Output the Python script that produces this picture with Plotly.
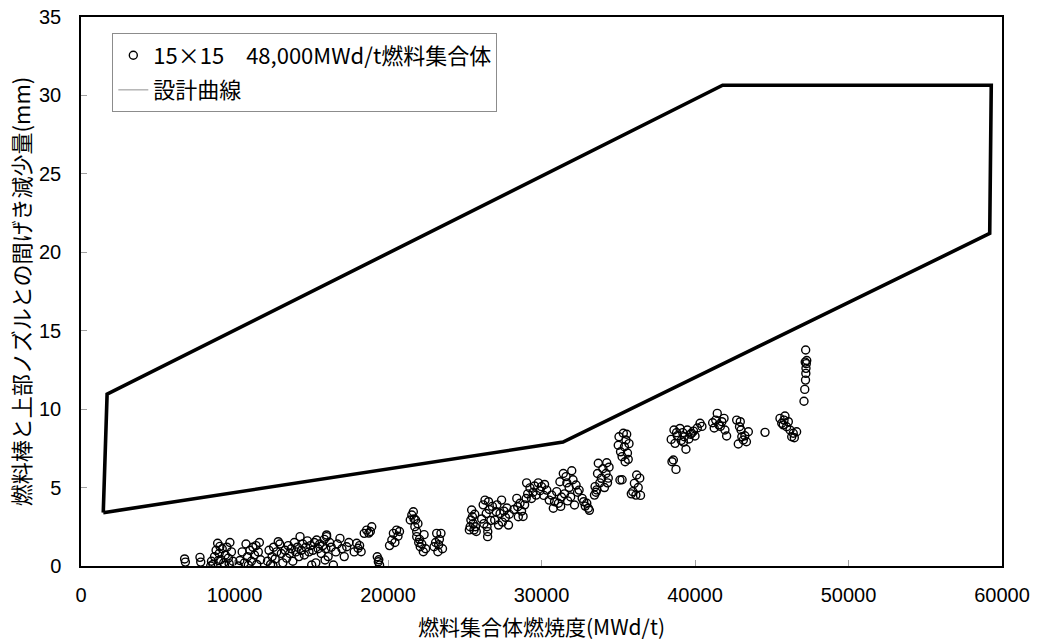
import plotly.graph_objects as go

# Measured data: fuel assembly burnup (MWd/t) vs. reduction of gap between rod and top nozzle (mm)
burnup = [
    6750, 6800,
    7750, 7800,
    8500, 8600, 8700, 8800, 8900, 9000, 9100, 9200, 9300, 9400, 9500, 9600, 9700, 9800, 9900, 8450, 9050, 9350, 9650, 8950,
    10250, 10350, 10500, 10650, 10750, 10850, 11000, 11100, 11200, 11300, 11450, 11550, 11620, 11700, 10900, 11400,
    12150, 12250, 12350, 12450, 12550, 12650, 12750, 12850, 12950, 13050, 13150, 12500,
    13300, 13400, 13500, 13600, 13700, 13800, 13900, 14000, 14100, 14200, 14270, 14350, 14450, 14550, 14650, 14750,
    14850, 14950, 15030, 15100, 15200, 15300, 15350, 15450, 15550, 15650, 15750, 15850, 15950, 16000, 16100, 16200,
    15900, 16000, 16300, 16440, 16600, 16700, 16870, 17000, 17150, 17310, 17450,
    17800, 17960, 18050, 18150, 18250,
    18450, 18610, 18750, 18850, 18940,
    19300, 19370, 19450, 19400,
    20100, 20250, 20350, 20450, 20560, 20650, 20750,
    21450, 21550, 21650, 21750, 21800, 21870, 21700, 21950,
    21870, 22000, 22100, 22200, 22300, 22450, 22050, 22350,
    23000, 23100, 23170, 23250, 23350, 23450, 23550, 23300,
    25300, 25350, 25400, 25450, 25500, 25550, 25600, 25650, 25700, 25750,
    26100, 26200, 26320, 26400, 26450, 26500, 26490, 26600, 26700, 26800, 26250, 26550,
    26950, 27050, 27100, 27200, 27300, 27400, 27450, 27550, 27650, 27750, 27850, 27900,
    28200, 28390, 28450, 28490, 28600, 28700, 28800, 28900, 29000,
    29030, 29100, 29250, 29350, 29450, 29550, 29650, 29790, 29900, 30000, 30150, 30340, 30200,
    30500, 30660, 30770, 30850, 30990, 31100, 31200, 31300, 31420, 31500, 31600, 31700, 31800, 31900, 31970, 32050,
    32150, 32250, 32350, 32450, 31250, 31650,
    32650, 32750, 32850, 32950, 33050, 33120,
    33450, 33490, 33550, 33600, 33650, 33700, 33800, 33900, 34000, 34100, 34250, 34300, 34200, 34400, 34350,
    35000, 35050, 35150, 35250, 35330, 35400, 35450, 35500, 35600, 35650, 35700, 35550, 35110, 35250,
    35850, 35950, 36050, 36150, 36200, 36300, 36400, 36450,
    38450, 38500, 38590, 38630, 38700, 38760, 38850, 39020, 39100, 39200, 39300, 39410, 39500, 39600, 39700, 39780,
    39900, 40000, 40150, 40330, 40450, 39250, 38800,
    41150, 41250, 41350, 41450, 41550, 41650, 41750, 41890, 41950, 42060,
    42715, 42820, 42900, 43000, 43050, 43150, 43250, 43350, 43475, 42950,
    44560,
    45537, 45650, 45750, 45860, 45970, 46080, 46190, 46300, 46400, 46470, 46620, 45800,
    47100, 47150, 47200, 47220, 47230, 47250, 47180, 47280, 47210,
]
gap_reduction = [
    0.45, 0.25,
    0.55, 0.25,
    0.3, 0.1, 0.6, 1.0, 1.45, 0.8, 0.4, 1.1, 0.2, 0.7, 1.2, 0.5, 1.5, 0.9, 0.3, 0.0, 1.25, 0.05, 0.15, 0.35,
    0.0, 0.35, 0.9, 0.2, 1.4, 0.6, 1.0, 0.3, 1.2, 0.7, 0.1, 0.9, 1.5, 0.4, 0.05, 1.3,
    0.3, 1.0, 0.1, 0.6, 1.2, 0.45, 0.9, 1.55, 1.4, 0.8, 0.2, 0.05,
    1.0, 0.5, 1.3, 0.8, 1.1, 0.3, 1.5, 0.9, 1.2, 0.6, 1.87, 1.0, 1.4, 0.7, 1.2, 1.6,
    0.9, 1.3, 0.06, 1.0, 1.5, 0.2, 1.66, 1.1, 1.4, 0.8, 1.3, 1.7, 1.1, 1.98, 0.6, 1.5,
    0.38, 1.87, 1.2, 0.06, 0.9, 1.4, 1.76, 1.1, 0.6, 1.23, 1.5,
    0.9, 1.45, 1.13, 1.3, 0.91,
    2.08, 2.29, 2.1, 2.2, 2.5,
    0.59, 0.27, 0.06, 0.4,
    1.3, 1.66, 2.08, 1.5, 2.29, 1.9, 2.2,
    2.93, 3.25, 3.46, 2.5, 2.93, 2.19, 3.0, 2.7,
    1.87, 1.5, 1.23, 1.4, 0.91, 1.1, 1.7, 2.0,
    1.23, 1.5, 2.08, 0.91, 1.7, 2.08, 1.1, 1.35,
    2.3, 2.5, 2.93, 3.57, 3.14, 2.7, 2.3, 3.3, 2.5, 2.2,
    3.0, 3.9, 4.2, 3.35, 2.5, 2.19, 1.87, 3.6, 2.9, 3.8, 2.7, 4.1,
    2.93, 3.46, 3.9, 2.61, 3.35, 4.2, 2.8, 3.5, 3.1, 3.7, 2.61, 3.3,
    3.6, 4.31, 3.78, 3.14, 4.0, 3.5, 3.16, 3.9, 4.3,
    5.3, 4.6, 4.98, 4.3, 4.7, 5.1, 4.52, 5.3, 4.8, 5.06, 4.5, 4.84, 5.2,
    4.2, 4.52, 3.68, 4.1, 4.74, 4.0, 5.37, 4.4, 5.9, 4.6, 5.7, 4.15, 5.0, 4.4, 6.07, 5.5,
    3.89, 5.16, 4.7, 4.84, 3.8, 5.3,
    4.31, 4.1, 3.82, 4.0, 3.68, 3.55,
    4.52, 5.06, 4.7, 4.85, 5.9, 6.55, 5.3, 5.59, 6.2, 5.0, 6.58, 5.3, 5.9, 6.3, 5.6,
    7.7, 8.24, 7.28, 6.97, 8.46, 7.6, 6.65, 8.03, 7.2, 6.8, 7.8, 8.4, 5.48, 5.5,
    4.6, 4.74, 5.27, 4.52, 5.8, 5.0, 5.6, 4.5,
    8.07, 6.65, 6.76, 8.67, 7.82, 6.16, 8.3, 8.77, 8.0, 8.5, 8.24, 7.44, 8.67, 8.1, 8.4, 8.46,
    8.6, 8.29, 8.8, 9.1, 8.9, 7.9, 8.5,
    9.13, 8.8, 9.3, 9.73, 9.0, 8.9, 9.2, 9.41, 8.67, 8.29,
    9.3, 7.78, 8.88, 8.67, 8.24, 8.03, 8.3, 7.92, 8.56, 9.2,
    8.52,
    9.41, 9.1, 9.0, 9.56, 8.88, 9.2, 8.67, 8.24, 8.46, 8.18, 8.56, 9.3,
    10.5, 11.26, 11.85, 12.28, 12.6, 12.9, 13.0, 13.1, 13.77,
]

# Design curve envelope (closed polygon)
design_x = [1450, 1700, 41800, 59300, 59200, 31400, 1450]
design_y = [3.4, 10.95, 30.65, 30.65, 21.2, 7.9, 3.4]

x_ticks = [0, 10000, 20000, 30000, 40000, 50000, 60000]
y_ticks = [0, 5, 10, 15, 20, 25, 30, 35]

JP = "Noto Sans CJK JP"

fig = go.Figure()
fig.add_trace(go.Scatter(
    x=burnup, y=gap_reduction, mode="markers",
    name="15×15\u300048,000MWd/t燃料集合体", legendgroup="a",
    marker=dict(symbol="circle-open", size=8, color="black", line=dict(width=1.4, color="black")),
))
fig.add_trace(go.Scatter(
    x=design_x, y=design_y, mode="lines", showlegend=False,
    line=dict(color="black", width=3.6),
))
fig.add_trace(go.Scatter(
    x=[None], y=[None], mode="lines", name="設計曲線", legendgroup="b",
    line=dict(color="#909090", width=1),
))

fig.update_layout(
    width=1040, height=644,
    margin=dict(l=81, r=38, t=17, b=78, autoexpand=False),
    paper_bgcolor="white", plot_bgcolor="white",
    font=dict(family=JP, color="black", size=18),
    showlegend=True,
    legend=dict(
        x=0.034, y=0.97, xanchor="left", yanchor="top",
        bgcolor="white", bordercolor="#8c8c8c", borderwidth=1,
        font=dict(family=JP, size=22, color="black"),
        itemwidth=30, tracegroupgap=3,
    ),
    annotations=[dict(
        text="燃料集合体燃焼度(MWd/t)", xref="paper", yref="paper",
        x=0.5, y=-0.109, xanchor="center", yanchor="middle", showarrow=False,
        font=dict(family=JP, size=21, color="black"),
    )],
)
fig.update_xaxes(
    range=[0, 60000], tickvals=x_ticks, ticktext=[str(v) for v in x_ticks],
    showgrid=False, zeroline=False, automargin=False,
    showline=True, linecolor="black", linewidth=1.5, mirror=True,
    ticks="inside", ticklen=6, tickcolor="#a0a0a0", tickwidth=1,
    ticklabelstandoff=10, ticklabeloverflow="allow",
    tickfont=dict(family="Liberation Sans, Arial", size=20, color="black"),
)
fig.update_yaxes(
    range=[0, 35], tickvals=y_ticks, ticktext=[str(v) for v in y_ticks],
    showgrid=False, zeroline=False, automargin=False,
    showline=True, linecolor="black", linewidth=1.5, mirror=True,
    ticks="inside", ticklen=6, tickcolor="#a0a0a0", tickwidth=1,
    ticklabelstandoff=14, ticklabeloverflow="allow",
    tickfont=dict(family="Liberation Sans, Arial", size=20, color="black"),
    title=dict(text="燃料棒と上部ノズルとの間げき減少量(mm)", font=dict(family=JP, size=22, color="black"), standoff=2),
)

fig.write_html(
    "out.html",
    config={"displayModeBar": False},
    post_script="document.body.style.margin='0';document.body.style.overflow='hidden';",
)
